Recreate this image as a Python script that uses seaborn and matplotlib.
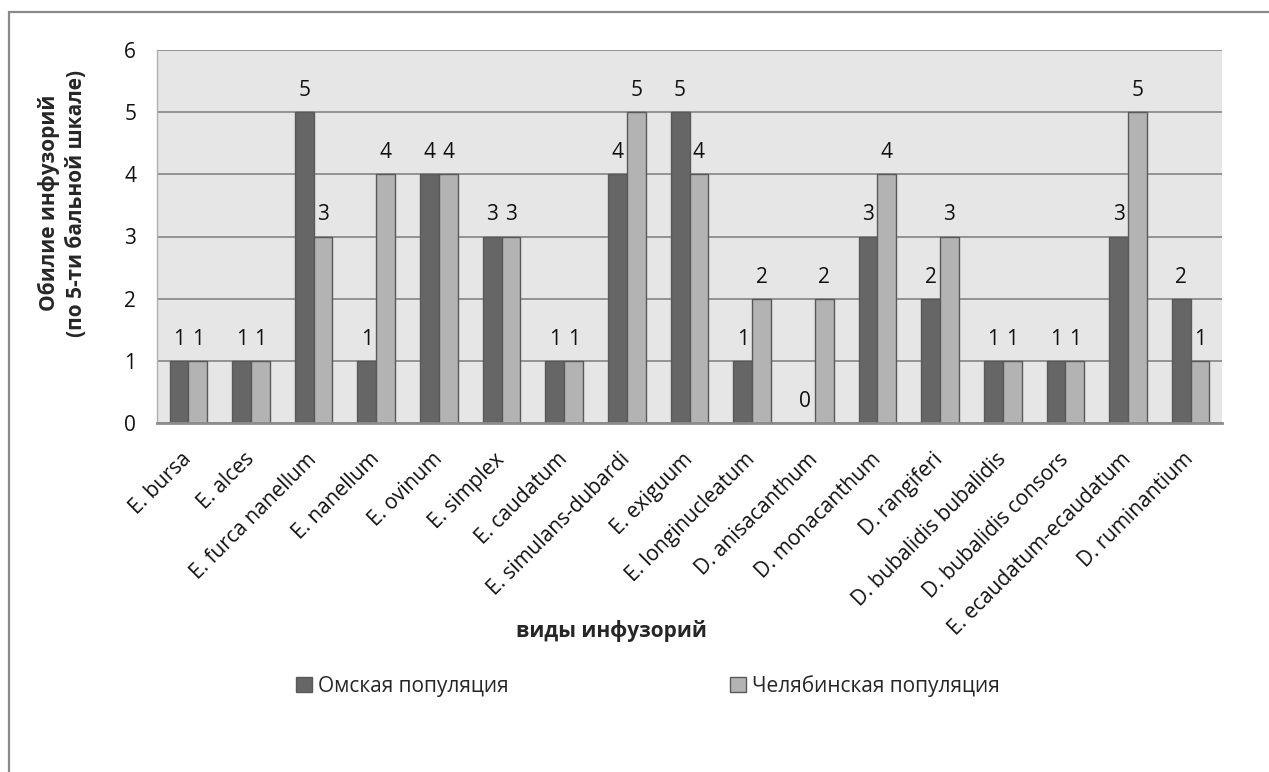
import matplotlib
matplotlib.use("Agg")
import matplotlib.pyplot as plt
import seaborn as sns
import pandas as pd
from matplotlib.patches import Rectangle

species = ["E. bursa", "E. alces", "E. furca nanellum", "E. nanellum", "E. ovinum",
           "E. simplex", "E. caudatum", "E. simulans-dubardi", "E. exiguum",
           "E. longinucleatum", "D. anisacanthum", "D. monacanthum", "D. rangiferi",
           "D. bubalidis bubalidis", "D. bubalidis consors", "E. ecaudatum-ecaudatum",
           "D. ruminantium"]
omsk = [1, 1, 5, 1, 4, 3, 1, 4, 5, 1, 0, 3, 2, 1, 1, 3, 2]
chel = [1, 1, 3, 4, 4, 3, 1, 5, 4, 2, 2, 4, 3, 1, 1, 5, 1]
series_names = ["Омская популяция", "Челябинская популяция"]
yticks = [0, 1, 2, 3, 4, 5, 6]
ylabel = "Обилие инфузорий\n(по 5-ти бальной шкале)"
xlabel = "виды инфузорий"

df = pd.DataFrame({
    "species": species * 2,
    "value": omsk + chel,
    "population": [series_names[0]] * len(species) + [series_names[1]] * len(species),
})

sns.set_style("white")
plt.rcParams["font.family"] = ["Open Sans", "DejaVu Sans"]
FS = 15

W, H = 1269, 772
fig = plt.figure(figsize=(W / 100, H / 100), dpi=100)
ax = fig.add_axes([157 / W, (H - 423) / H, (1222 - 157) / W, (423 - 50) / H])
ax.set_facecolor("#e6e6e6")

sns.barplot(data=df, x="species", y="value", hue="population", order=species,
            hue_order=series_names, palette=["#666666", "#b3b3b3"], saturation=1,
            width=0.6, gap=0, edgecolor="#595959", linewidth=1.0, ax=ax)

ax.set_ylim(0, 6)
ax.set_xlim(-0.5, len(species) - 0.5)
ax.set_yticks(yticks)
ax.yaxis.grid(True, color="#8c8c8c", lw=1.3)
ax.xaxis.grid(False)
ax.set_axisbelow(True)
for s in ["top", "right"]:
    ax.spines[s].set_visible(False)
ax.spines["left"].set_color("#b0b0b0")
ax.spines["left"].set_linewidth(1.0)
ax.spines["bottom"].set_color("#8c8c8c")
ax.spines["bottom"].set_linewidth(2.0)

ax.tick_params(axis="y", length=5, width=1.3, color="#8c8c8c", pad=10, labelsize=FS, labelcolor="#111111")
ax.tick_params(axis="x", length=0, pad=24, labelsize=FS, labelcolor="#111111")
for lab in ax.get_xticklabels():
    lab.set_rotation(45)
    lab.set_ha("right")
    lab.set_va("center")
    lab.set_rotation_mode("anchor")

for cont in ax.containers:
    ax.bar_label(cont, fmt="%d", padding=8, fontsize=FS, color="#111111")

ax.set_xlabel("")
ax.set_ylabel("")
fig.text(62 / W, 1 - 203 / H, ylabel, rotation=90, ha="center", va="center",
         fontsize=FS, fontweight="bold", linespacing=1.35)
fig.text(611 / W, 1 - 631 / H, xlabel, ha="center", va="center",
         fontsize=FS, fontweight="bold")

handles, labels = ax.get_legend_handles_labels()
if ax.get_legend() is not None:
    ax.get_legend().remove()
fs_px = FS * 100 / 72
fig.legend(handles, labels, loc="center", bbox_to_anchor=(648 / W, 1 - 686 / H),
           ncol=2, frameon=False, fontsize=FS, columnspacing=221 / fs_px,
           handlelength=0.75, handleheight=0.75, handletextpad=0.3)

# outer chart border (top and left visible)
fig.add_artist(Rectangle((9 / W, -0.5), 1.5, 0.5 + (H - 12) / H, transform=fig.transFigure,
                         fill=False, edgecolor="#8a8a8a", lw=1.6))

fig.savefig("out.png", dpi=100, facecolor="white")
